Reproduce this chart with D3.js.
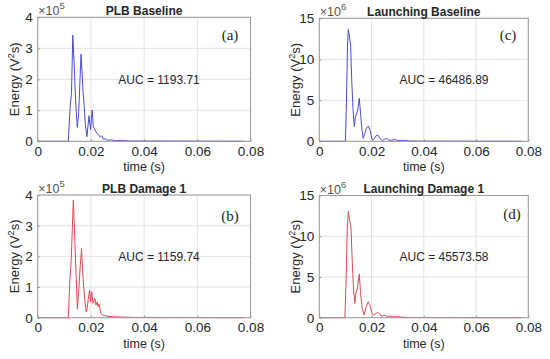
<!DOCTYPE html>
<html>
<head>
<meta charset="utf-8">
<script src="https://cdn.jsdelivr.net/npm/d3@7"></script>
<style>
  body { margin: 0; background: #fff; }
  text { font-family: "Liberation Sans", Arial, sans-serif; fill: #262626; }
</style>
</head>
<body>
<svg id="chart" width="550" height="359"></svg>
<script>
// time axis ticks shared by all panels
const xTicks = [0, 0.02, 0.04, 0.06, 0.08];

// (a) PLB Baseline, energy x1e5
const tA = [0, 0.0115, 0.0122, 0.0127, 0.0132, 0.0137, 0.0143, 0.0149, 0.0154, 0.0159, 0.0163, 0.0167, 0.0170, 0.0174, 0.0179, 0.0185, 0.0189, 0.0193, 0.0196, 0.0199, 0.0202, 0.0205, 0.0209, 0.0213, 0.0216, 0.0222, 0.0229, 0.0235, 0.0241, 0.0247, 0.0255, 0.0265, 0.0275, 0.0290, 0.0310, 0.0340, 0.0380, 0.0775];
const vA = [0, 0, 1.12, 1.55, 3.43, 2.5, 1.2, 0.45, 0.9, 2.0, 2.81, 2.2, 1.65, 1.23, 0.55, 0.15, 0.5, 0.83, 0.55, 0.36, 0.75, 1.01, 0.47, 0.42, 0.36, 0.26, 0.21, 0.14, 0.18, 0.07, 0.08, 0.03, 0.05, 0.02, 0.03, 0.01, 0.01, 0];

// (b) PLB Damage 1, energy x1e5
const tB = [0, 0.0115, 0.0121, 0.0126, 0.0134, 0.0149, 0.0155, 0.0160, 0.0165, 0.0169, 0.0173, 0.0178, 0.0182, 0.0186, 0.0190, 0.0195, 0.0199, 0.0203, 0.0208, 0.0215, 0.0219, 0.0224, 0.0227, 0.0231, 0.0237, 0.0245, 0.0260, 0.0280, 0.0320, 0.0360, 0.0775];
const vB = [0, 0, 1.23, 1.88, 3.84, 0.28, 1.0, 1.7, 2.26, 1.5, 1.0, 0.5, 0.2, 0.3, 0.6, 0.9, 0.52, 0.85, 0.47, 0.63, 0.41, 0.52, 0.36, 0.45, 0.14, 0.09, 0.05, 0.03, 0.02, 0.01, 0];

// (c) Launching Baseline, energy x1e6
const tC = [0, 0.0100, 0.0104, 0.0108, 0.0111, 0.0116, 0.0120, 0.0124, 0.0129, 0.0134, 0.0138, 0.0141, 0.0147, 0.0153, 0.0158, 0.0163, 0.0168, 0.0174, 0.0180, 0.0188, 0.0195, 0.0201, 0.0207, 0.0214, 0.0220, 0.0226, 0.0233, 0.0242, 0.0250, 0.0258, 0.0266, 0.0275, 0.0290, 0.0300, 0.0320, 0.0340, 0.0370, 0.0775];
const vC = [0, 0, 5.0, 11.5, 13.66, 12.6, 11.7, 7.5, 4.0, 1.78, 2.9, 3.2, 3.8, 5.24, 3.4, 1.5, 0.36, 0.9, 1.6, 1.87, 1.3, 0.3, 0.16, 0.5, 0.77, 0.7, 0.3, 0.1, 0.25, 0.36, 0.15, 0.12, 0.2, 0.08, 0.1, 0.05, 0.02, 0];

// (d) Launching Damage 1, energy x1e6
const tD = [0, 0.0098, 0.0103, 0.0107, 0.0111, 0.0116, 0.0121, 0.0126, 0.0131, 0.0136, 0.0140, 0.0145, 0.0153, 0.0158, 0.0164, 0.0172, 0.0178, 0.0187, 0.0195, 0.0201, 0.0207, 0.0214, 0.0223, 0.0230, 0.0236, 0.0244, 0.0251, 0.0260, 0.0270, 0.0285, 0.0300, 0.0320, 0.0350, 0.0775];
const vD = [0, 0, 5.0, 11.0, 13.03, 12.0, 11.2, 7.0, 3.5, 1.76, 3.0, 3.5, 5.37, 3.0, 1.2, 0.33, 1.2, 1.97, 1.5, 0.6, 0.33, 0.45, 0.66, 0.5, 0.2, 0.25, 0.33, 0.15, 0.2, 0.1, 0.12, 0.05, 0.02, 0];

const titles = ["PLB Baseline", "PLB Damage 1", "Launching Baseline", "Launching Damage 1"];
const tags = ["(a)", "(b)", "(c)", "(d)"];
const aucs = ["AUC = 1193.71", "AUC = 1159.74", "AUC = 46486.89", "AUC = 45573.58"];
const exps = ["5", "5", "6", "6"];
const yTicksPLB = [0, 1, 2, 3, 4];
const yTicksLaunch = [0, 5, 10, 15];

const BLUE = "#4c4cce";
const RED = "#da4a55";

const svg = d3.select("#chart");

const panels = [
  { t: tA, v: vA, yt: yTicksPLB, color: BLUE, box: [37.7, 250.5, 17.3, 141.3], tagPos: [230, 40], aucPos: [159, 84] },
  { t: tB, v: vB, yt: yTicksPLB, color: RED, box: [37.7, 250.5, 195, 317.7], tagPos: [230, 221], aucPos: [159, 261] },
  { t: tC, v: vC, yt: yTicksLaunch, color: BLUE, box: [319.3, 528.3, 18.3, 141.3], tagPos: [508, 40], aucPos: [444, 84] },
  { t: tD, v: vD, yt: yTicksLaunch, color: RED, box: [319.3, 528.3, 195.5, 317.7], tagPos: [512, 219], aucPos: [444, 261] }
];

panels.forEach((p, i) => {
  const [x0, x1, y0, y1] = p.box;
  const x = d3.scaleLinear().domain([0, 0.08]).range([x0, x1]);
  const y = d3.scaleLinear().domain([0, d3.max(p.yt)]).range([y1, y0]);
  const g = svg.append("g");

  // grid
  g.selectAll(".gx").data(xTicks).join("line")
    .attr("x1", d => x(d)).attr("x2", d => x(d))
    .attr("y1", y0).attr("y2", y1)
    .attr("stroke", "#e3e3e3").attr("stroke-width", 1);
  g.selectAll(".gy").data(p.yt).join("line")
    .attr("x1", x0).attr("x2", x1)
    .attr("y1", d => y(d)).attr("y2", d => y(d))
    .attr("stroke", "#e3e3e3").attr("stroke-width", 1);

  // data line
  const pts = p.t.map((t, k) => [t, p.v[k]]);
  g.append("path")
    .datum(pts)
    .attr("fill", "none")
    .attr("stroke", p.color)
    .attr("stroke-width", 1)
    .attr("d", d3.line().x(d => x(d[0])).y(d => y(d[1])));

  // axes
  const xa = g.append("g").attr("transform", `translate(0,${y1})`)
    .call(d3.axisBottom(x).tickValues(xTicks).tickFormat(d => d === 0 ? "0" : d3.format(".2f")(d)).tickSizeInner(-2).tickSizeOuter(0).tickPadding(5));
  const ya = g.append("g").attr("transform", `translate(${x0},0)`)
    .call(d3.axisLeft(y).tickValues(p.yt).tickFormat(d3.format("d")).tickSizeInner(-2).tickSizeOuter(0).tickPadding(5));
  [xa, ya].forEach(a => {
    a.select(".domain").remove();
    a.selectAll(".tick line").attr("stroke", "#8f8f8f");
    a.selectAll(".tick text").attr("fill", "#262626")
      .style("font-size", "13.5px").style("font-family", '"Liberation Sans", Arial, sans-serif');
  });
  // box
  g.append("rect")
    .attr("x", x0).attr("y", y0).attr("width", x1 - x0).attr("height", y1 - y0)
    .attr("fill", "none").attr("stroke", "#9a9a9a").attr("stroke-width", 1);

  // labels
  g.append("text").attr("x", (x0 + x1) / 2).attr("y", y0 - 2.5)
    .attr("text-anchor", "middle").style("font-size", "12px").style("font-weight", "bold")
    .text(titles[i]);
  g.append("text").attr("x", (x0 + x1) / 2).attr("y", y1 + 30)
    .attr("text-anchor", "middle").style("font-size", "12.5px")
    .text("time (s)");
  const yl = g.append("text")
    .attr("transform", `translate(${x0 - 19},${(y0 + y1) / 2}) rotate(-90)`)
    .attr("text-anchor", "middle").style("font-size", "13px");
  yl.append("tspan").text("Energy (V");
  yl.append("tspan").attr("dy", -5).style("font-size", "9px").text("2");
  yl.append("tspan").attr("dy", 5).text("s)");

  const ex = g.append("text").attr("x", x0 + 0.5).attr("y", y0 - 2)
    .style("font-size", "12.5px").attr("fill", "#555");
  ex.append("tspan").attr("fill", "#555").text("\u00d710");
  ex.append("tspan").attr("dy", -6).attr("fill", "#555").style("font-size", "9.5px").text(exps[i]);

  g.append("text").attr("x", p.aucPos[0]).attr("y", p.aucPos[1])
    .attr("text-anchor", "middle").style("font-size", "12px")
    .text(aucs[i]);
  g.append("text").attr("x", p.tagPos[0]).attr("y", p.tagPos[1])
    .attr("text-anchor", "middle")
    .style("font-family", '"Liberation Serif", "Times New Roman", serif').style("font-size", "15px")
    .attr("fill", "#111")
    .text(tags[i]);
});
</script>
</body>
</html>
